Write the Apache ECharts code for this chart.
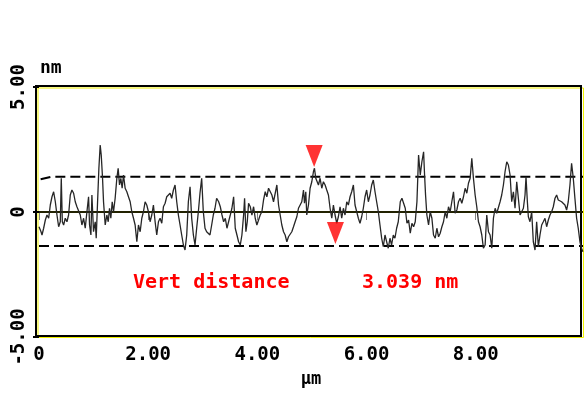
<!DOCTYPE html>
<html>
<head>
<meta charset="utf-8">
<script src="https://cdn.jsdelivr.net/npm/echarts@6/dist/echarts.min.js"></script>
<style>
html,body{margin:0;padding:0;background:#fff;}
#chart{width:586px;height:394px;}
</style>
</head>
<body>
<div id="chart"></div>
<script>
// ---- data ----
const xTicks = [0, 2, 4, 6, 8];            // µm
const yTicks = [-5, 0, 5];                 // nm
const xRange = [0, 9.965];
const yRange = [-5, 5];
const upperLevel = [[0.03, 1.31], [0.22, 1.41], [9.965, 1.41]];
const lowerLevel = [[0.0, -1.36], [9.965, -1.36]];
const zeroLevel = [[0, 0], [9.965, 0]];
const cursorTop = [[5.04, 1.80]];
const cursorBottom = [[5.43, -1.28]];
const vertLabel = 'Vert distance';
const vertValue = '3.039 nm';
const profile = [
[0.000,-0.59],[0.037,-0.79],[0.055,-0.92],[0.085,-0.65],[0.116,-0.32],[0.146,-0.12],[0.177,-0.25],[0.207,0.28],[0.238,0.61],[0.268,0.81],[0.299,0.41],[0.329,-0.12],[0.360,-0.59],[0.390,-0.39],[0.408,1.35],[0.427,-0.39],[0.451,-0.52],[0.481,-0.25],[0.512,-0.39],[0.542,-0.12],[0.573,0.68],[0.603,0.88],[0.634,0.75],[0.664,0.41],[0.695,0.21],[0.725,0.28],[0.756,-0.12],[0.786,-0.52],[0.817,-0.25],[0.847,-0.65],[0.878,0.01],[0.908,0.61],[0.926,-0.52],[0.951,-0.92],[0.969,0.68],[0.999,-0.79],[1.030,-0.39],[1.048,-1.05],[1.073,0.41],[1.097,1.75],[1.121,2.68],[1.140,2.28],[1.164,1.35],[1.182,0.41],[1.213,-0.52],[1.243,-0.12],[1.268,-0.39],[1.292,0.15],[1.316,-0.25],[1.341,0.41],[1.365,0.01],[1.395,0.55],[1.426,1.35],[1.450,1.75],[1.475,1.08],[1.499,1.35],[1.523,0.95],[1.548,1.48],[1.578,0.95],[1.609,0.81],[1.639,0.61],[1.670,0.41],[1.700,0.01],[1.731,-0.25],[1.761,-0.52],[1.792,-1.19],[1.822,-0.52],[1.853,-0.79],[1.883,-0.25],[1.913,0.01],[1.944,0.41],[1.974,0.28],[2.005,0.01],[2.035,-0.39],[2.066,-0.12],[2.096,0.28],[2.127,-0.39],[2.157,-0.92],[2.188,-0.39],[2.218,-0.25],[2.249,-0.45],[2.279,0.21],[2.310,0.35],[2.340,0.61],[2.370,0.55],[2.401,0.75],[2.431,0.55],[2.462,0.88],[2.492,1.08],[2.523,0.41],[2.553,-0.12],[2.584,-0.52],[2.614,-0.92],[2.645,-1.32],[2.675,-1.52],[2.706,-0.92],[2.736,0.41],[2.767,1.01],[2.797,-0.25],[2.828,-0.92],[2.858,-1.32],[2.888,-0.65],[2.919,0.01],[2.949,0.75],[2.980,1.35],[3.010,0.01],[3.041,-0.65],[3.071,-0.79],[3.102,-0.72],[3.132,-0.92],[3.163,-0.52],[3.193,-0.12],[3.224,0.15],[3.254,0.55],
[3.291,0.41],[3.321,0.21],[3.352,-0.12],[3.382,-0.39],[3.413,-0.25],[3.443,-0.65],[3.473,-0.39],[3.504,-0.12],[3.534,0.15],[3.565,0.61],[3.595,-0.65],[3.626,-0.92],[3.656,-1.19],[3.687,-1.32],[3.717,-0.92],[3.748,-0.12],[3.766,0.55],[3.790,-0.79],[3.815,-0.39],[3.839,0.35],[3.870,0.21],[3.900,-0.12],[3.931,0.21],[3.961,-0.25],[3.991,-0.52],[4.022,-0.32],[4.052,-0.12],[4.083,0.01],[4.113,0.48],[4.144,0.81],[4.174,0.61],[4.205,0.95],[4.235,0.88],[4.266,0.68],[4.296,0.41],[4.327,0.75],[4.357,1.08],[4.388,0.28],[4.418,-0.12],[4.448,-0.52],[4.479,-0.79],[4.509,-0.92],[4.540,-1.19],[4.570,-0.99],[4.601,-0.92],[4.631,-0.79],[4.662,-0.59],[4.692,-0.39],[4.723,-0.19],[4.753,0.15],[4.784,0.21],[4.814,0.41],[4.845,0.88],[4.863,0.35],[4.887,0.81],[4.905,-0.12],[4.936,0.28],[4.966,0.95],[4.997,1.21],[5.027,1.61],[5.046,1.75],[5.070,1.35],[5.094,1.41],[5.119,1.08],[5.149,1.35],[5.180,0.95],[5.210,1.21],[5.241,1.08],[5.271,0.88],[5.302,0.68],[5.332,0.15],[5.363,-0.25],[5.393,0.28],[5.423,-0.12],[5.454,-0.45],[5.484,-0.19],[5.515,0.21],[5.545,-0.25],[5.576,0.15],[5.606,-0.12],[5.637,0.41],[5.667,0.28],[5.698,0.61],[5.728,0.81],[5.759,1.08],[5.789,0.28],[5.820,0.01],[5.850,-0.25],[5.880,-0.45],[5.911,-0.19],[5.941,0.15],[5.972,0.61],[6.002,0.88],[6.033,0.41],[6.063,0.68],[6.094,1.08],[6.124,1.28],[6.155,0.81],[6.185,0.41],[6.216,0.01],[6.246,-0.52],[6.277,-1.05],[6.307,-1.39],[6.338,-0.92],[6.368,-1.19],[6.398,-1.45],[6.429,-1.05],[6.459,-1.32],[6.490,-0.92],[6.520,-1.05],[6.551,-0.65],[6.581,-0.39],
[6.618,0.41],[6.648,0.55],[6.679,0.35],[6.709,0.15],[6.740,-0.45],[6.770,-0.32],[6.801,-0.85],[6.831,-0.45],[6.862,-0.59],[6.892,-0.39],[6.923,0.41],[6.953,2.28],[6.984,1.48],[7.014,2.01],[7.045,2.41],[7.063,1.48],[7.081,0.68],[7.105,-0.12],[7.136,-0.52],[7.166,0.01],[7.197,-0.25],[7.227,-0.92],[7.258,-1.05],[7.288,-0.65],[7.319,-0.99],[7.349,-0.85],[7.380,-0.59],[7.410,-0.39],[7.441,0.01],[7.471,-0.25],[7.501,0.21],[7.532,0.01],[7.562,0.41],[7.593,0.81],[7.623,-0.05],[7.654,0.08],[7.684,0.41],[7.715,0.55],[7.745,0.35],[7.776,0.61],[7.806,0.95],[7.837,0.75],[7.867,1.15],[7.898,1.35],[7.928,2.15],[7.958,1.35],[7.989,0.68],[8.019,0.21],[8.050,-0.39],[8.080,-0.59],[8.111,-0.92],[8.141,-1.45],[8.172,-1.32],[8.202,-0.12],[8.233,-0.79],[8.263,-0.92],[8.294,-1.45],[8.324,-0.25],[8.355,0.15],[8.385,-0.05],[8.416,0.01],[8.446,0.41],[8.476,0.68],[8.507,1.08],[8.537,1.61],[8.568,2.01],[8.598,1.88],[8.629,1.48],[8.659,0.41],[8.690,0.81],[8.720,0.15],[8.751,1.21],[8.781,0.55],[8.812,-0.12],[8.842,0.01],[8.873,0.15],[8.903,0.68],[8.921,1.41],[8.946,0.41],[8.964,-0.19],[8.994,-0.39],[9.025,0.01],[9.055,-1.19],[9.086,-1.52],[9.116,-0.39],[9.147,-1.39],[9.177,-0.92],[9.208,-0.52],[9.238,-0.39],[9.269,-0.25],[9.299,-0.59],[9.330,-0.32],[9.360,-0.12],[9.391,0.01],[9.421,0.21],[9.452,0.55],[9.482,0.68],[9.512,0.48],[9.543,0.48],[9.573,0.41],[9.604,0.35],[9.634,0.28],[9.665,0.08],[9.695,0.41],[9.726,1.08],[9.756,1.95],[9.787,1.35],[9.817,0.55],[9.848,-0.25],[9.878,-0.65],[9.909,-1.19],[9.939,-1.45],[9.963,-1.59]
];

// ---- chart ----
const MONO = '"DejaVu Sans Mono", "Liberation Mono", monospace';
const fmt = v => (v === 0 ? '0' : v.toFixed(2));
const chart = echarts.init(document.getElementById('chart'), null, {renderer: 'canvas'});

const option = {
  backgroundColor: '#ffffff',
  animation: false,
  grid: [
    {left: 39, right: 3, top: 87, bottom: 57, show: false},
    {left: 38, right: 2.5, top: 88, bottom: 56.5, show: true, borderColor: '#f0f000', borderWidth: 1, backgroundColor: 'transparent', z: 0},
    {left: 36, right: 5, top: 86, bottom: 58, show: true, borderColor: '#000000', borderWidth: 2, backgroundColor: 'transparent', z: 1}
  ],
  xAxis: [
    {
      type: 'value', gridIndex: 0, min: xRange[0], max: xRange[1], interval: 2,
      name: 'µm', nameLocation: 'middle', nameGap: 34,
      nameTextStyle: {color: '#000', fontFamily: MONO, fontWeight: 'bold', fontSize: 17},
      axisLine: {show: false},
      axisTick: {show: true, length: 8, lineStyle: {color: '#808080', width: 1}, customValues: xTicks},
      axisLabel: {color: '#000', fontFamily: MONO, fontWeight: 'bold', fontSize: 19, margin: 9, formatter: fmt, customValues: xTicks},
      splitLine: {show: false}
    },
    {type: 'value', gridIndex: 1, show: false, min: 0, max: 1},
    {type: 'value', gridIndex: 2, show: false, min: 0, max: 1}
  ],
  yAxis: [
    {
      type: 'value', gridIndex: 0, min: yRange[0], max: yRange[1], interval: 5,
      axisLine: {show: false},
      axisTick: {show: true, length: 6, lineStyle: {color: '#000', width: 2}, customValues: yTicks},
      axisLabel: {color: '#000', fontFamily: MONO, fontWeight: 'bold', fontSize: 19, rotate: 90, margin: 10, formatter: fmt, customValues: yTicks},
      splitLine: {show: false}
    },
    {type: 'value', gridIndex: 1, show: false, min: 0, max: 1},
    {type: 'value', gridIndex: 2, show: false, min: 0, max: 1}
  ],
  series: [
    {
      type: 'line', data: zeroLevel, symbol: 'none', silent: true, z: 3,
      lineStyle: {color: '#222200', width: 2}
    },
    {
      type: 'line', data: upperLevel, symbol: 'none', silent: true, z: 3,
      lineStyle: {color: '#000', width: 2, type: [10, 5]}
    },
    {
      type: 'line', data: lowerLevel, symbol: 'none', silent: true, z: 3,
      lineStyle: {color: '#000', width: 2, type: [10, 5]}
    },
    {
      type: 'line', data: profile, symbol: 'none', silent: true, z: 4,
      lineStyle: {color: '#262626', width: 1.3}
    },
    {
      type: 'scatter', data: cursorTop, symbol: 'triangle', symbolRotate: 180,
      symbolSize: [17, 22], symbolOffset: [0, -11], silent: true, z: 6,
      itemStyle: {color: '#ff0000'}
    },
    {
      type: 'scatter', data: cursorBottom, symbol: 'triangle', symbolRotate: 180,
      symbolSize: [17, 22], symbolOffset: [0, -11], silent: true, z: 6,
      itemStyle: {color: '#ff0000'}
    }
  ],
  graphic: [
    {type: 'text', left: 40, top: 59, z: 10,
      style: {text: 'nm', fill: '#000', font: 'bold 18px ' + MONO}},
    {type: 'text', left: 133, top: 273, z: 10,
      style: {text: vertLabel, fill: '#ff0000', font: 'bold 20px ' + MONO}},
    {type: 'text', left: 362, top: 273, z: 10,
      style: {text: vertValue, fill: '#ff0000', font: 'bold 20px ' + MONO}}
  ]
};
chart.setOption(option);
</script>
</body>
</html>
